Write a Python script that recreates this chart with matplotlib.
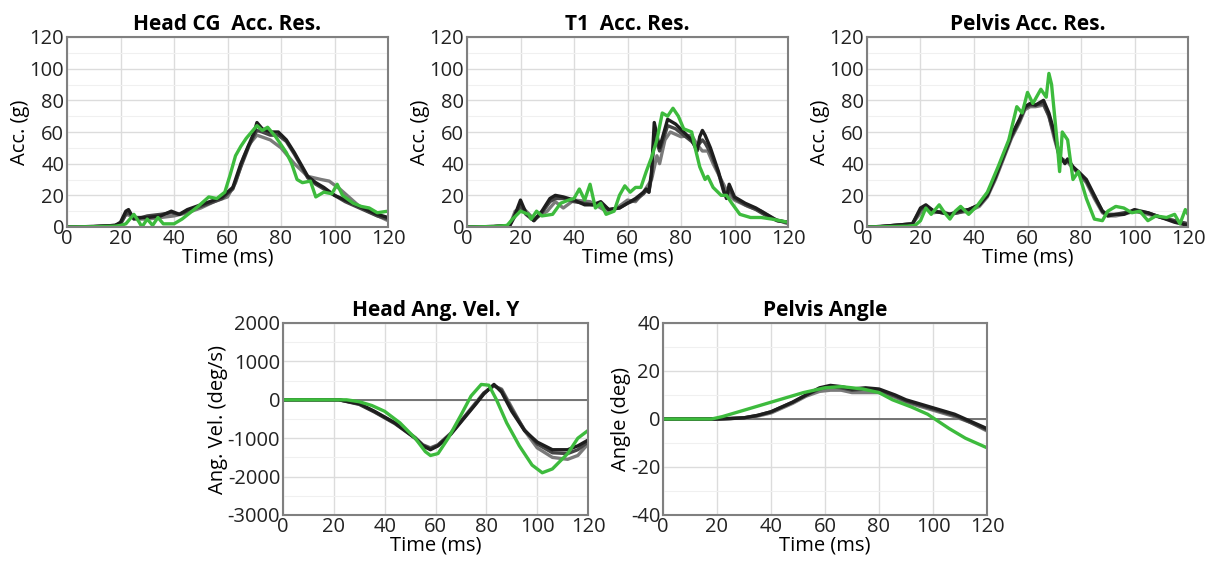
import matplotlib
matplotlib.use("Agg")
import matplotlib.pyplot as plt
from matplotlib.ticker import MultipleLocator

plt.rcParams['font.family'] = ['Open Sans', 'DejaVu Sans']
plt.rcParams['axes.unicode_minus'] = False

# ---------------- data ----------------
# Head CG Acc. Res.
head_t_k = [0, 10, 18, 20, 22, 23, 25, 28, 30, 35, 39, 42, 45, 50, 55, 58, 62, 65, 68, 70, 71, 73, 76, 79, 82, 85, 88, 90, 93, 96, 100, 104, 108, 112, 116, 120]
head_black = [0, 0.3, 1, 3, 10, 11, 5, 6, 6, 7, 10, 8, 11, 14, 17, 19, 25, 40, 52, 60, 66, 62, 60, 60, 55, 47, 38, 32, 28, 25, 20, 17, 14, 11, 8, 6]
head_dgray = [0, 0.3, 1, 2, 8, 9, 6, 6, 7, 8, 9, 8, 10, 13, 16, 18, 24, 38, 51, 58, 61, 60, 58, 58, 54, 46, 37, 31, 27, 24, 20, 16, 13, 10, 7, 5]
head_t_g = [0, 10, 18, 20, 22, 24, 26, 30, 35, 40, 45, 50, 55, 60, 63, 66, 68, 71, 76, 80, 85, 90, 95, 98, 102, 106, 110, 115, 120]
head_gray = [0, 0.3, 1, 2, 8, 7, 5, 5, 6, 7, 9, 12, 16, 19, 28, 44, 52, 58, 55, 50, 40, 32, 30, 29, 24, 18, 12, 8, 4]
head_t_gr = [0, 10, 18, 20, 22, 25, 27, 28, 30, 32, 34, 36, 40, 43, 46, 49, 53, 56, 59, 61, 63, 65, 67, 69, 71, 73, 75, 78, 80, 82, 84, 86, 88, 91, 93, 96, 99, 101, 103, 107, 110, 113, 116, 120]
head_green = [0, 0.2, 0.5, 1, 2, 8, 3, 0, 5, 1, 6, 2, 2, 5, 9, 13, 19, 18, 22, 33, 45, 51, 56, 60, 64, 61, 63, 57, 52, 47, 40, 30, 28, 29, 19, 22, 21, 27, 20, 15, 13, 12, 9, 10]

# T1 Acc. Res.
t1_t_k = [0, 10, 16, 18, 20, 22, 25, 28, 31, 33, 36, 40, 44, 47, 50, 53, 57, 60, 63, 66, 67, 68, 69, 70, 72, 75, 78, 81, 84, 86, 87, 88, 89, 91, 94, 96, 97, 98, 100, 104, 108, 112, 116, 120]
t1_black = [0, 0.3, 1, 8, 17, 9, 4, 10, 18, 20, 19, 17, 14, 14, 16, 11, 12, 15, 18, 22, 24, 22, 35, 66, 50, 68, 65, 60, 55, 48, 57, 61, 58, 50, 35, 23, 18, 27, 19, 15, 12, 8, 4, 3]
t1_dgray = [0, 0.3, 1, 7, 14, 8, 4, 9, 16, 18, 18, 16, 15, 14, 15, 11, 12, 15, 17, 21, 23, 22, 32, 58, 48, 64, 62, 58, 54, 50, 53, 55, 53, 47, 34, 22, 19, 24, 18, 14, 11, 7, 4, 3]
t1_t_g = [0, 10, 16, 18, 21, 25, 30, 33, 36, 40, 46, 52, 56, 60, 63, 66, 69, 71, 72, 74, 76, 80, 84, 86, 88, 90, 92, 95, 98, 100, 105, 110, 115, 120]
t1_gray = [0, 0.3, 1, 10, 12, 5, 10, 16, 12, 17, 16, 10, 12, 17, 16, 22, 30, 45, 40, 55, 60, 57, 58, 52, 48, 48, 40, 30, 20, 17, 13, 10, 5, 2]
t1_t_gr = [0, 10, 15, 17, 20, 23, 24, 26, 28, 32, 35, 38, 40, 42, 44, 46, 48, 50, 52, 55, 57, 59, 61, 63, 65, 67, 69, 71, 73, 75, 77, 79, 81, 84, 85, 87, 89, 90, 92, 95, 97, 99, 102, 106, 110, 114, 120]
t1_green = [0, 0.3, 1, 5, 10, 8, 5, 10, 7, 8, 15, 17, 18, 24, 17, 27, 12, 15, 8, 10, 20, 26, 22, 25, 25, 35, 44, 55, 72, 70, 75, 70, 62, 60, 52, 38, 30, 32, 25, 20, 20, 15, 8, 6, 6, 5, 3]

# Pelvis Acc. Res.
pel_t_k = [0, 5, 10, 17, 20, 22, 25, 28, 31, 34, 38, 42, 45, 48, 51, 54, 57, 59, 61, 63, 66, 68, 70, 72, 74, 75, 77, 79, 82, 85, 88, 90, 93, 96, 100, 105, 110, 115, 120]
pel_black = [0, 0.3, 1, 2, 12, 14, 10, 9, 8, 10, 11, 14, 20, 32, 45, 58, 68, 76, 78, 77, 80, 72, 60, 45, 40, 43, 38, 35, 30, 20, 10, 7, 8, 8, 11, 9, 6, 3, 1]
pel_dgray = [0, 0.3, 1, 2, 11, 13, 10, 9, 8, 9, 11, 14, 20, 31, 44, 57, 67, 75, 77, 77, 78, 70, 58, 44, 41, 42, 38, 34, 29, 19, 10, 8, 8, 9, 10, 9, 6, 4, 2]
pel_gray = [0, 0.3, 1, 2, 9, 12, 9, 10, 8, 9, 10, 13, 19, 30, 43, 56, 66, 74, 76, 76, 77, 70, 56, 44, 42, 41, 37, 34, 28, 18, 9, 7, 7, 8, 10, 8, 6, 4, 2]
pel_t_gr = [0, 10, 15, 18, 20, 22, 24, 27, 29, 31, 33, 35, 38, 41, 45, 49, 53, 56, 58, 60, 62, 65, 67, 68, 69, 71, 72, 73, 75, 77, 79, 82, 85, 88, 90, 93, 96, 99, 102, 105, 108, 112, 115, 117, 119, 120]
pel_green = [0, 0.3, 0.5, 1, 4, 12, 8, 14, 9, 5, 10, 13, 8, 13, 22, 38, 55, 76, 72, 85, 78, 87, 82, 97, 90, 55, 35, 60, 55, 30, 35, 18, 5, 4, 10, 13, 12, 9, 10, 4, 7, 6, 8, 2, 11, 8]

# Head Ang. Vel. Y
av_t = [0, 10, 22, 30, 36, 44, 52, 55, 58, 61, 66, 71, 76, 79, 83, 86, 90, 95, 100, 106, 112, 116, 120]
av_black = [0, 0, 0, -100, -300, -600, -1000, -1200, -1300, -1200, -900, -500, -100, 150, 400, 200, -300, -800, -1100, -1300, -1300, -1200, -1050]
av_dgray = [0, 0, 0, -120, -320, -620, -1000, -1180, -1270, -1180, -880, -480, -80, 170, 380, 250, -250, -780, -1150, -1380, -1400, -1300, -1100]
av_gray = [0, 0, 0, -110, -310, -600, -980, -1170, -1250, -1170, -870, -470, -60, 180, 360, 280, -200, -800, -1250, -1500, -1550, -1450, -1150]
av_t_gr = [0, 10, 25, 30, 35, 40, 46, 52, 56, 58, 61, 65, 70, 74, 78, 81, 84, 88, 93, 98, 102, 106, 112, 116, 120]
av_green = [0, 0, 0, -50, -150, -300, -600, -1000, -1350, -1450, -1400, -1000, -400, 100, 400, 380, 0, -600, -1200, -1700, -1900, -1800, -1400, -1000, -800]

# Pelvis Angle
pa_t = [0, 10, 20, 25, 30, 35, 40, 48, 53, 58, 62, 66, 70, 75, 80, 86, 90, 96, 102, 108, 114, 120]
pa_black = [0, 0, 0, 0.2, 0.5, 1.5, 3, 7, 10, 13, 14, 13.5, 12.5, 13, 12.5, 10, 8, 6, 4, 2, -1, -4]
pa_dgray = [0, 0, 0, 0.2, 0.5, 1.5, 3, 7, 10, 12.5, 13.5, 13, 12, 12.5, 12, 9.5, 7.5, 5.5, 3.5, 1.5, -1.5, -4.5]
pa_gray = [0, 0, 0, 0.2, 0.4, 1.2, 2.5, 6.5, 9.5, 11.5, 12, 12, 11, 11, 11, 9, 7, 5, 3, 1, -1.5, -5]
pa_t_gr = [0, 10, 18, 22, 28, 34, 40, 46, 52, 60, 66, 74, 80, 85, 92, 98, 102, 106, 112, 120]
pa_green = [0, 0, 0, 1, 3, 5, 7, 9, 11, 13, 13.5, 12.5, 11, 8, 5, 2, -1, -4, -8, -12]

# ---------------- style ----------------
C_BLACK = '#1e1e1e'
C_DGRAY = '#454545'
C_GRAY = '#7a7a7a'
C_GREEN = '#3dbb3d'
LW = 2.4
FS = 14.5

fig = plt.figure(figsize=(12.11, 5.61), dpi=100)
W, H = 1211, 561

def add_ax(l, r, t, b):
    return fig.add_axes([l / W, 1 - b / H, (r - l) / W, (b - t) / H])

def style(ax, ylim, ymaj, ymin, title, ylabel, zero=False):
    ax.set_xlim(0, 120)
    ax.set_ylim(*ylim)
    ax.xaxis.set_major_locator(MultipleLocator(20))
    ax.xaxis.set_minor_locator(MultipleLocator(10))
    ax.yaxis.set_major_locator(MultipleLocator(ymaj))
    ax.yaxis.set_minor_locator(MultipleLocator(ymin))
    ax.grid(True, which='major', color='#dcdcdc', lw=1.0)
    ax.grid(True, which='minor', axis='y', color='#f0f0f0', lw=0.8)
    ax.set_axisbelow(True)
    for s in ax.spines.values():
        s.set_color('#808080')
        s.set_linewidth(1.5)
    ax.tick_params(which='both', length=0, labelsize=FS, colors='#222222')
    ax.tick_params(axis='x', pad=1.5)
    ax.tick_params(axis='y', pad=2)
    ax.set_title(title, fontsize=15, fontweight='bold', pad=5)
    ax.set_xlabel('Time (ms)', fontsize=FS, labelpad=-1)
    ax.set_ylabel(ylabel, fontsize=FS, labelpad=0)
    if zero:
        ax.axhline(0, color='#6a6a6a', lw=1.3, zorder=1.5)

def plot4(ax, series):
    for t, y, c in series:
        ax.plot(t, y, color=c, lw=LW, solid_joinstyle='round', solid_capstyle='round')

ax1 = add_ax(67, 388, 37, 227)
plot4(ax1, [(head_t_g, head_gray, C_GRAY), (head_t_k, head_dgray, C_DGRAY),
            (head_t_k, head_black, C_BLACK), (head_t_gr, head_green, C_GREEN)])
style(ax1, (0, 120), 20, 10, 'Head CG  Acc. Res.', 'Acc. (g)')

ax2 = add_ax(467, 788, 37, 227)
plot4(ax2, [(t1_t_g, t1_gray, C_GRAY), (t1_t_k, t1_dgray, C_DGRAY),
            (t1_t_k, t1_black, C_BLACK), (t1_t_gr, t1_green, C_GREEN)])
style(ax2, (0, 120), 20, 10, 'T1  Acc. Res.', 'Acc. (g)')

ax3 = add_ax(867, 1188, 37, 227)
plot4(ax3, [(pel_t_k, pel_gray, C_GRAY), (pel_t_k, pel_dgray, C_DGRAY),
            (pel_t_k, pel_black, C_BLACK), (pel_t_gr, pel_green, C_GREEN)])
style(ax3, (0, 120), 20, 10, 'Pelvis Acc. Res.', 'Acc. (g)')

ax4 = add_ax(283, 588, 323, 515)
plot4(ax4, [(av_t, av_gray, C_GRAY), (av_t, av_dgray, C_DGRAY),
            (av_t, av_black, C_BLACK), (av_t_gr, av_green, C_GREEN)])
style(ax4, (-3000, 2000), 1000, 500, 'Head Ang. Vel. Y', 'Ang. Vel. (deg/s)', zero=True)

ax5 = add_ax(663, 987, 323, 515)
plot4(ax5, [(pa_t, pa_gray, C_GRAY), (pa_t, pa_dgray, C_DGRAY),
            (pa_t, pa_black, C_BLACK), (pa_t_gr, pa_green, C_GREEN)])
style(ax5, (-40, 40), 20, 10, 'Pelvis Angle', 'Angle (deg)', zero=True)

fig.savefig('out.png', dpi=100, facecolor='white')
